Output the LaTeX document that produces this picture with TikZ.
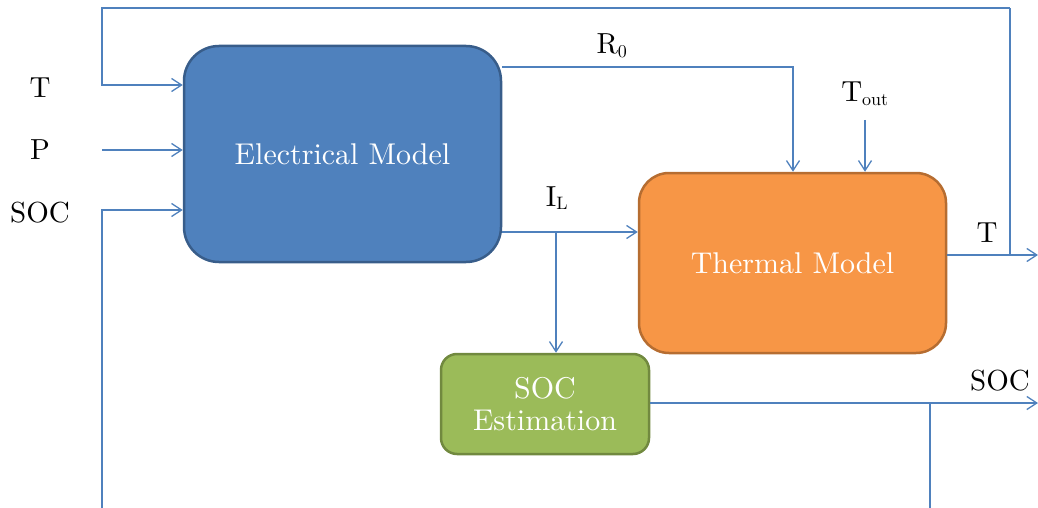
\documentclass[tikz,border=0pt]{standalone}
\usepackage{fontspec}
\setmainfont{lmroman10-regular}[Extension=.otf]
\usetikzlibrary{arrows.meta}
\definecolor{lineblue}{RGB}{79,129,189}
\definecolor{elecfill}{RGB}{79,129,189}
\definecolor{elecdraw}{RGB}{56,93,138}
\definecolor{thermfill}{RGB}{247,150,70}
\definecolor{thermdraw}{RGB}{182,109,49}
\definecolor{socfill}{RGB}{155,187,89}
\definecolor{socdraw}{RGB}{113,137,63}
\tikzset{
  conn/.style={draw=lineblue, line width=1.3pt},
  arr/.style={conn, -{Straight Barb[length=10pt,width=13pt,line width=1.3pt]}},
  blockbox/.style={line width=2.5pt, text=white, align=center, font=\fontsize{30}{35}\selectfont, inner sep=0pt},
  lbl/.style={text=black, font=\fontsize{29}{34}\selectfont, inner sep=0pt},
}
\begin{document}
\begin{tikzpicture}[x=1pt,y=-1pt]
\useasboundingbox (0,0) rectangle (1038,508);
% blocks
\node[blockbox, fill=elecfill, draw=elecdraw, rounded corners=35pt,
      minimum width=317pt, minimum height=216pt] (elec) at (342.5,154) {Electrical Model};
\node[blockbox, fill=thermfill, draw=thermdraw, rounded corners=30pt,
      minimum width=307pt, minimum height=180pt] (therm) at (792.5,263) {Thermal Model};
\node[blockbox, fill=socfill, draw=socdraw, rounded corners=16pt,
      minimum width=208pt, minimum height=100pt] (soc) at (545,404) {SOC\\[-3pt]Estimation};
% labels
\node[lbl] (lT) at (40,88) {T};
\node[lbl] (lP) at (40,150) {P};
\node[lbl] (lSOC) at (40,213) {SOC};
\node[lbl] (lR) at (612,46) {R\textsubscript{\fontsize{18}{20}\selectfont 0}};
\node[lbl] (lTout) at (865,94) {T\textsubscript{\fontsize{18}{20}\selectfont out}};
\node[lbl] (lIL) at (557,198) {I\textsubscript{\fontsize{18}{20}\selectfont L}};
\node[lbl] (lTo) at (987,233) {T};
\node[lbl] (lSOCo) at (1000,381) {SOC};
% coordinates
\coordinate (inT) at (102,85);
\coordinate (inP) at (102,150);
\coordinate (inS) at (102,210);
\coordinate (topL) at (102,8);
\coordinate (topR) at (1010,8);
\coordinate (botL) at (102,509);
\coordinate (botR) at (930,509);
\coordinate (rOut) at (502,67);
\coordinate (rTurn) at (793,67);
\coordinate (toutStart) at (865,120);
\coordinate (ilOut) at (502,232);
\coordinate (ilSplit) at (556,232);
\coordinate (tOutEnd) at (1038,255);
\coordinate (tSplit) at (1010,255);
\coordinate (sOutEnd) at (1038,403);
\coordinate (sSplit) at (930,403);
% connectors
\draw[arr] (topR) -- (topL) -- (inT) -- (elec.west |- inT);
\draw[arr] (inP) -- (elec.west |- inP);
\draw[arr] (botR) -- (botL) -- (inS) -- (elec.west |- inS);
\draw[arr] (rOut) -- (rTurn) -- (therm.north -| rTurn);
\draw[arr] (toutStart) -- (therm.north -| toutStart);
\draw[arr] (ilOut) -- (therm.west |- ilOut);
\draw[arr] (ilSplit) -- (soc.north -| ilSplit);
\draw[arr] (therm.east |- tOutEnd) -- (tOutEnd);
\draw[conn] (tSplit) -- (topR);
\draw[arr] (soc.east |- sOutEnd) -- (sOutEnd);
\draw[conn] (sSplit) -- (botR);
\end{tikzpicture}
\end{document}
